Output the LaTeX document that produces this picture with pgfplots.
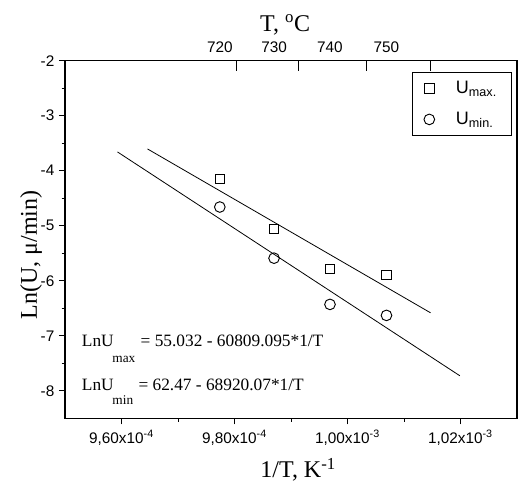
\documentclass[border=0pt]{standalone}
\usepackage{fontspec}
\setmainfont{Liberation Serif}
\newfontfamily\arial{Liberation Sans}
\usepackage{pgfplots}
\pgfplotsset{compat=1.18}
\begin{document}
\begin{tikzpicture}
\begin{axis}[
  name=main,
  scale only axis,
  width=339pt, height=268.2pt,
  xmin=9.5e-4, xmax=1.03e-3, ymin=-8.5, ymax=-2,
  xtick={9.6e-4,9.8e-4,1.0e-3,1.02e-3},
  xticklabels={{9,60x10\textsuperscript{-4}},{9,80x10\textsuperscript{-4}},{1,00x10\textsuperscript{-3}},{1,02x10\textsuperscript{-3}}},
  scaled x ticks=false,
  minor x tick num=1,
  ytick={-8,-7,-6,-5,-4,-3,-2},
  yticklabels={-8,-7,-6,-5,-4,-3,-2},
  minor y tick num=1,
  xtick pos=bottom, ytick pos=left,
  tick align=outside,
  major tick length=4.5pt, minor tick length=2.5pt,
  ticklabel style={font=\arial\fontsize{11.5}{13}\selectfont},
  xticklabel style={yshift=-1pt},
  axis line style={line width=0.8pt},
  tick style={line width=0.7pt, black},
  xlabel={1/T, K\textsuperscript{-1}},
  ylabel={Ln(U, μ/min)},
  label style={font=\fontsize{18}{20}\selectfont},
  xlabel style={at={(axis description cs:0.516,-0.1446)}, anchor=center},
  ylabel style={at={(axis description cs:-0.075,0.457)}, anchor=center},
  legend style={draw=black, line width=0.6pt, at={(0.989,0.968)}, anchor=north east,
    font=\arial\fontsize{13.5}{14}\selectfont, inner xsep=9pt, inner ysep=4.5pt, row sep=8.5pt,
    /tikz/every odd column/.append style={column sep=14pt}},
  legend cell align=left,
  clip=false,
]
\addplot[black, line width=0.6pt, forget plot] coordinates {(9.646e-4,-3.604) (1.0147e-3,-6.583)};
\addplot[black, line width=0.6pt, forget plot] coordinates {(9.5929e-4,-3.659) (1.01988e-3,-7.727)};
\addplot[only marks, mark=square, mark size=3.5pt, black, mark options={line width=0.7pt}]
  coordinates {(9.774e-4,-4.15) (9.870e-4,-5.06) (9.969e-4,-5.79) (1.0069e-3,-5.89)};
\addlegendentry{U\textsubscript{max.}}
\addplot[only marks, mark=o, mark size=4pt, black, mark options={line width=0.7pt}]
  coordinates {(9.774e-4,-4.66) (9.870e-4,-5.59) (9.969e-4,-6.43) (1.0069e-3,-6.63)};
\addlegendentry{U\textsubscript{min.}}
\node[anchor=base west, inner sep=0, font=\fontsize{13}{14}\selectfont] at (rel axis cs:0.037,0.1994)
  {LnU\kern-1pt\raisebox{-12pt}{\fontsize{10}{10}\selectfont max}\hspace{4pt}= 55.032 - 60809.095*1/T};
\node[anchor=base west, inner sep=0, font=\fontsize{13}{14}\selectfont] at (rel axis cs:0.037,0.0766)
  {LnU\kern-1pt\raisebox{-10pt}{\fontsize{10}{10}\selectfont min}\hspace{4pt}= 62.47 - 68920.07*1/T};
\end{axis}
\begin{axis}[
  scale only axis,
  width=339pt, height=268.2pt,
  xmin=9.5e-4, xmax=1.03e-3, ymin=-8.5, ymax=-2,
  axis x line*=top, axis y line*=right,
  axis line style={draw=none},
  scaled x ticks=false,
  xtick={9.804e-4,9.914e-4,1.0033e-3,1.0147e-3}, xticklabels={},
  ytick=\empty,
  minor ytick={-8.5,-8,-7.5,-7,-6.5,-6,-5.5,-5,-4.5,-4,-3.5,-3,-2.5},
  tick align=inside,
  major tick length=7.5pt, minor tick length=3.75pt,
  tick style={line width=0.7pt, black},
  xlabel={T, \textsuperscript{o}C},
  xlabel style={font=\fontsize{18}{20}\selectfont, at={(axis description cs:0.487,1.1)}, anchor=center},
  clip=false,
]
\node[anchor=base, font=\arial\fontsize{11.5}{13}\selectfont, yshift=6.5pt] at (axis cs:9.774e-4,-2) {720};
\node[anchor=base, font=\arial\fontsize{11.5}{13}\selectfont, yshift=6.5pt] at (axis cs:9.870e-4,-2) {730};
\node[anchor=base, font=\arial\fontsize{11.5}{13}\selectfont, yshift=6.5pt] at (axis cs:9.969e-4,-2) {740};
\node[anchor=base, font=\arial\fontsize{11.5}{13}\selectfont, yshift=6.5pt] at (axis cs:1.0069e-3,-2) {750};
\end{axis}
\pgfresetboundingbox
\path ([shift={(-48.75pt,-48.5pt)}]main.south west) rectangle ([shift={(1.5pt,45.5pt)}]main.north east);
\end{tikzpicture}
\end{document}
